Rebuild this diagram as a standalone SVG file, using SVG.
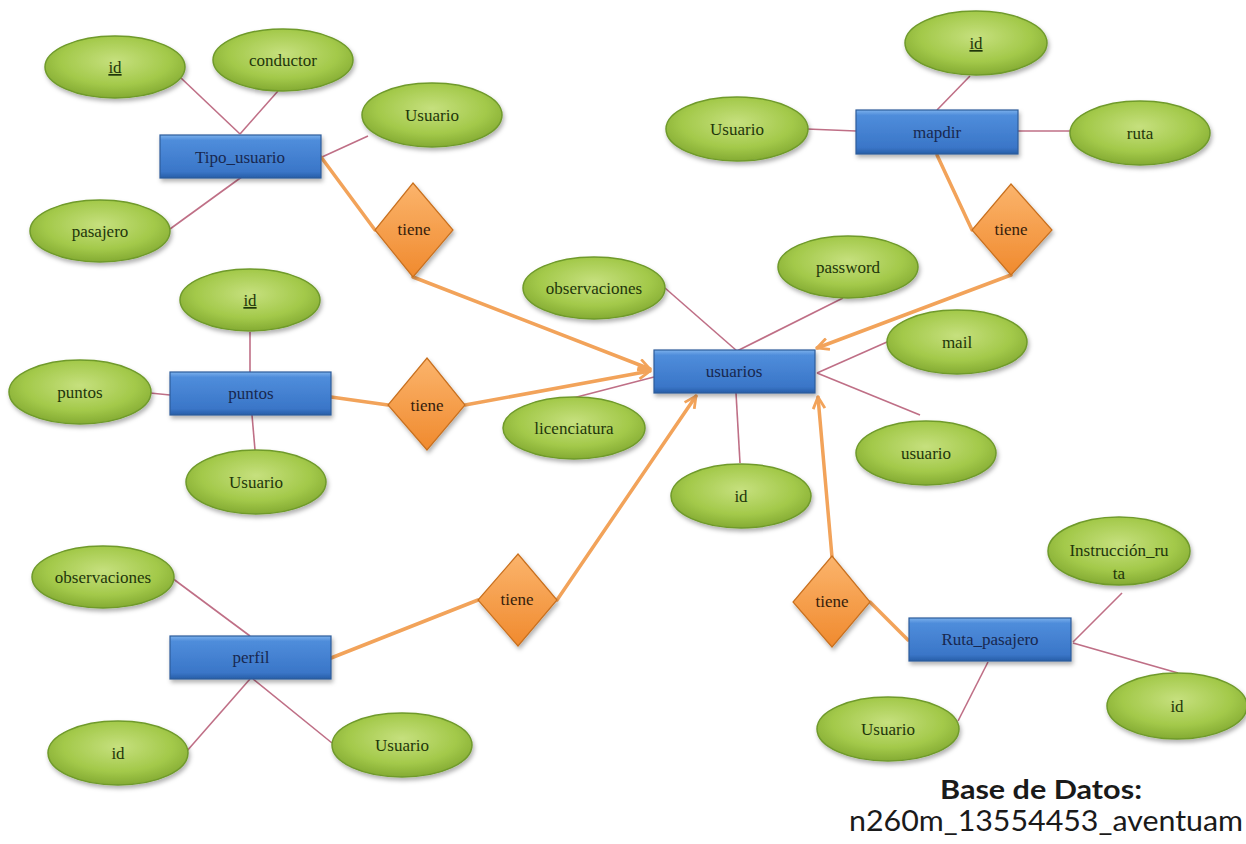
<svg xmlns="http://www.w3.org/2000/svg" width="1246" height="844" viewBox="0 0 1246 844">
  <defs>
    <radialGradient id="gAttr" cx="50%" cy="40%" r="60%">
      <stop offset="0" stop-color="#c6e07e"/>
      <stop offset="0.65" stop-color="#a3c94a"/>
      <stop offset="1" stop-color="#84ab33"/>
    </radialGradient>
    <linearGradient id="gEnt" x1="0" y1="0" x2="0" y2="1">
      <stop offset="0" stop-color="#7bb1ec"/>
      <stop offset="0.12" stop-color="#4f8ddb"/>
      <stop offset="0.85" stop-color="#3a76c8"/>
      <stop offset="1" stop-color="#285ea8"/>
    </linearGradient>
    <linearGradient id="gRel" x1="0" y1="0" x2="0" y2="1">
      <stop offset="0" stop-color="#fbb46c"/>
      <stop offset="1" stop-color="#f08a2e"/>
    </linearGradient>
    <filter id="shadow" x="-20%" y="-20%" width="140%" height="150%">
      <feDropShadow dx="1.5" dy="3" stdDeviation="2" flood-color="#000" flood-opacity="0.3"/>
    </filter>
    <marker id="arrow" viewBox="0 0 12 12" refX="11" refY="6" markerWidth="14" markerHeight="14" markerUnits="userSpaceOnUse" orient="auto">
      <path d="M1,1 L11,6 L1,11" fill="none" stroke="#f2a35a" stroke-width="2.4" stroke-linejoin="miter"/>
    </marker>
  </defs>
  <style>
    .attr ellipse { fill: url(#gAttr); stroke: #6f9a2c; stroke-width: 1.5; filter: url(#shadow); }
    .attr text { font-family: "Liberation Serif", "DejaVu Serif", serif; font-size: 17px; fill: #1f360a; text-anchor: middle; }
    .ent rect { fill: url(#gEnt); stroke: #2d5c9a; stroke-width: 1.2; filter: url(#shadow); }
    .ent text { font-family: "Liberation Serif", "DejaVu Serif", serif; font-size: 17px; fill: #182850; text-anchor: middle; }
    .rel polygon { fill: url(#gRel); stroke: #c8701f; stroke-width: 1.2; filter: url(#shadow); }
    .rel text { font-family: "Liberation Serif", "DejaVu Serif", serif; font-size: 17px; fill: #35200c; text-anchor: middle; }
    .attrline { stroke: #bf6f86; stroke-width: 1.6; fill: none; }
    .relline { stroke: #f2a35a; stroke-width: 3.5; fill: none; stroke-linecap: round; }
    .u { text-decoration: underline; }
    .caption { font-family: Lato, "Liberation Sans", sans-serif; fill: #1a1a1a; text-anchor: middle; }
  </style>

  <rect width="1246" height="844" fill="#ffffff"/>

  <!-- connectors -->
  <g id="connectors">
    <!-- Tipo_usuario attributes -->
    <line class="attrline" x1="181" y1="78" x2="240" y2="134"/>
    <line class="attrline" x1="278" y1="91" x2="240" y2="134"/>
    <line class="attrline" x1="322" y1="157" x2="368" y2="136"/>
    <line class="attrline" x1="170" y1="229" x2="243" y2="176"/>
    <!-- mapdir attributes -->
    <line class="attrline" x1="970" y1="76" x2="937" y2="110"/>
    <line class="attrline" x1="807" y1="129" x2="856" y2="131"/>
    <line class="attrline" x1="1018" y1="131" x2="1071" y2="131"/>
    <!-- usuarios attributes -->
    <line class="attrline" x1="665" y1="288" x2="737" y2="351"/>
    <line class="attrline" x1="843" y1="298" x2="737" y2="351"/>
    <line class="attrline" x1="887" y1="342" x2="817" y2="373"/>
    <line class="attrline" x1="920" y1="415" x2="817" y2="373"/>
    <line class="attrline" x1="736" y1="393" x2="740" y2="463"/>
    <line class="attrline" x1="573" y1="398" x2="654" y2="377"/>
    <!-- puntos attributes -->
    <line class="attrline" x1="250" y1="332" x2="250" y2="372"/>
    <line class="attrline" x1="150" y1="393" x2="170" y2="395"/>
    <line class="attrline" x1="252" y1="415" x2="255" y2="450"/>
    <!-- perfil attributes -->
    <line class="attrline" x1="172" y1="578" x2="250" y2="636"/>
    <line class="attrline" x1="186" y1="752" x2="250" y2="679"/>
    <line class="attrline" x1="332" y1="743" x2="253" y2="679"/>
    <!-- Ruta_pasajero attributes -->
    <line class="attrline" x1="1122" y1="593" x2="1073" y2="642"/>
    <line class="attrline" x1="1073" y1="643" x2="1178" y2="673"/>
    <line class="attrline" x1="988" y1="662" x2="958" y2="721"/>

    <!-- relationships -->
    <polyline class="relline" points="321,157 375,230"/>
    <line class="relline" x1="413" y1="277" x2="650" y2="369" marker-end="url(#arrow)"/>
    <polyline class="relline" points="937,155 972,230"/>
    <line class="relline" x1="1011" y1="275" x2="817" y2="348" marker-end="url(#arrow)"/>
    <polyline class="relline" points="331,397 388,405"/>
    <line class="relline" x1="465" y1="405" x2="650" y2="371" marker-end="url(#arrow)"/>
    <polyline class="relline" points="331,658 478,600"/>
    <line class="relline" x1="557" y1="600" x2="696" y2="396" marker-end="url(#arrow)"/>
    <polyline class="relline" points="908,640 870,602"/>
    <line class="relline" x1="832" y1="557" x2="818" y2="397" marker-end="url(#arrow)"/>
  </g>

  <!-- Tipo_usuario -->
  <g id="tipo_usuario" class="ent"><rect x="160" y="135" width="161" height="43"/><text x="240" y="163">Tipo_usuario</text></g>
  <g id="tipo_usuario_id" class="attr"><ellipse cx="115" cy="67" rx="70" ry="31"/><text class="u" x="115" y="73">id</text></g>
  <g id="tipo_usuario_conductor" class="attr"><ellipse cx="283" cy="60" rx="70" ry="31"/><text x="283" y="66">conductor</text></g>
  <g id="tipo_usuario_usuario" class="attr"><ellipse cx="432" cy="115" rx="70" ry="32"/><text x="432" y="121">Usuario</text></g>
  <g id="tipo_usuario_pasajero" class="attr"><ellipse cx="100" cy="231" rx="70" ry="31"/><text x="100" y="237">pasajero</text></g>
  <g id="rel_tipo_usuario" class="rel"><polygon points="413,183 453,230 413,277 375,230"/><text x="414" y="235">tiene</text></g>

  <!-- mapdir -->
  <g id="mapdir" class="ent"><rect x="856" y="110" width="162" height="44"/><text x="937" y="138">mapdir</text></g>
  <g id="mapdir_id" class="attr"><ellipse cx="976" cy="43" rx="71" ry="32"/><text class="u" x="976" y="49">id</text></g>
  <g id="mapdir_usuario" class="attr"><ellipse cx="737" cy="129" rx="71" ry="32"/><text x="737" y="135">Usuario</text></g>
  <g id="mapdir_ruta" class="attr"><ellipse cx="1140" cy="133" rx="70" ry="32"/><text x="1140" y="139">ruta</text></g>
  <g id="rel_mapdir" class="rel"><polygon points="1011,184 1052,230 1011,275 972,230"/><text x="1011" y="235">tiene</text></g>

  <!-- usuarios -->
  <g id="usuarios" class="ent"><rect x="654" y="350" width="161" height="43"/><text x="734" y="377">usuarios</text></g>
  <g id="usuarios_observaciones" class="attr"><ellipse cx="594" cy="288" rx="71" ry="31"/><text x="594" y="294">observaciones</text></g>
  <g id="usuarios_password" class="attr"><ellipse cx="848" cy="267" rx="70" ry="31"/><text x="848" y="273">password</text></g>
  <g id="usuarios_mail" class="attr"><ellipse cx="957" cy="342" rx="70" ry="32"/><text x="957" y="348">mail</text></g>
  <g id="usuarios_usuario" class="attr"><ellipse cx="926" cy="453" rx="70" ry="32"/><text x="926" y="459">usuario</text></g>
  <g id="usuarios_id" class="attr"><ellipse cx="741" cy="496" rx="70" ry="32"/><text x="741" y="502">id</text></g>
  <g id="usuarios_licenciatura" class="attr"><ellipse cx="574" cy="428" rx="71" ry="31"/><text x="574" y="434">licenciatura</text></g>

  <!-- puntos -->
  <g id="puntos" class="ent"><rect x="170" y="372" width="161" height="43"/><text x="251" y="399">puntos</text></g>
  <g id="puntos_id" class="attr"><ellipse cx="250" cy="300" rx="70" ry="31"/><text class="u" x="250" y="306">id</text></g>
  <g id="puntos_puntos" class="attr"><ellipse cx="80" cy="392" rx="71" ry="32"/><text x="80" y="398">puntos</text></g>
  <g id="puntos_usuario" class="attr"><ellipse cx="256" cy="482" rx="70" ry="32"/><text x="256" y="488">Usuario</text></g>
  <g id="rel_puntos" class="rel"><polygon points="427,358 465,405 427,450 388,405"/><text x="427" y="411">tiene</text></g>

  <!-- perfil -->
  <g id="perfil" class="ent"><rect x="170" y="636" width="161" height="43"/><text x="251" y="663">perfil</text></g>
  <g id="perfil_observaciones" class="attr"><ellipse cx="103" cy="577" rx="71" ry="31"/><text x="103" y="583">observaciones</text></g>
  <g id="perfil_id" class="attr"><ellipse cx="118" cy="753" rx="70" ry="32"/><text x="118" y="759">id</text></g>
  <g id="perfil_usuario" class="attr"><ellipse cx="402" cy="745" rx="70" ry="32"/><text x="402" y="751">Usuario</text></g>
  <g id="rel_perfil" class="rel"><polygon points="518,554 557,600 518,646 478,600"/><text x="517" y="605">tiene</text></g>

  <!-- Ruta_pasajero -->
  <g id="ruta_pasajero" class="ent"><rect x="909" y="618" width="162" height="43"/><text x="990" y="645">Ruta_pasajero</text></g>
  <g id="ruta_instruccion" class="attr"><ellipse cx="1119" cy="551" rx="71" ry="34"/><text x="1119" y="556">Instrucción_ru</text><text x="1119" y="579">ta</text></g>
  <g id="ruta_id" class="attr"><ellipse cx="1177" cy="706" rx="70" ry="33"/><text x="1177" y="712">id</text></g>
  <g id="ruta_usuario" class="attr"><ellipse cx="888" cy="729" rx="71" ry="32"/><text x="888" y="735">Usuario</text></g>
  <g id="rel_ruta_pasajero" class="rel"><polygon points="832,556 870,602 832,647 793,602"/><text x="832" y="607">tiene</text></g>

  <!-- database caption -->
  <text class="caption" x="1041" y="799" font-size="27" font-weight="bold" textLength="202" lengthAdjust="spacingAndGlyphs">Base de Datos:</text>
  <text class="caption" x="1046" y="831" font-size="29" textLength="394" lengthAdjust="spacingAndGlyphs">n260m_13554453_aventuam</text>
</svg>
